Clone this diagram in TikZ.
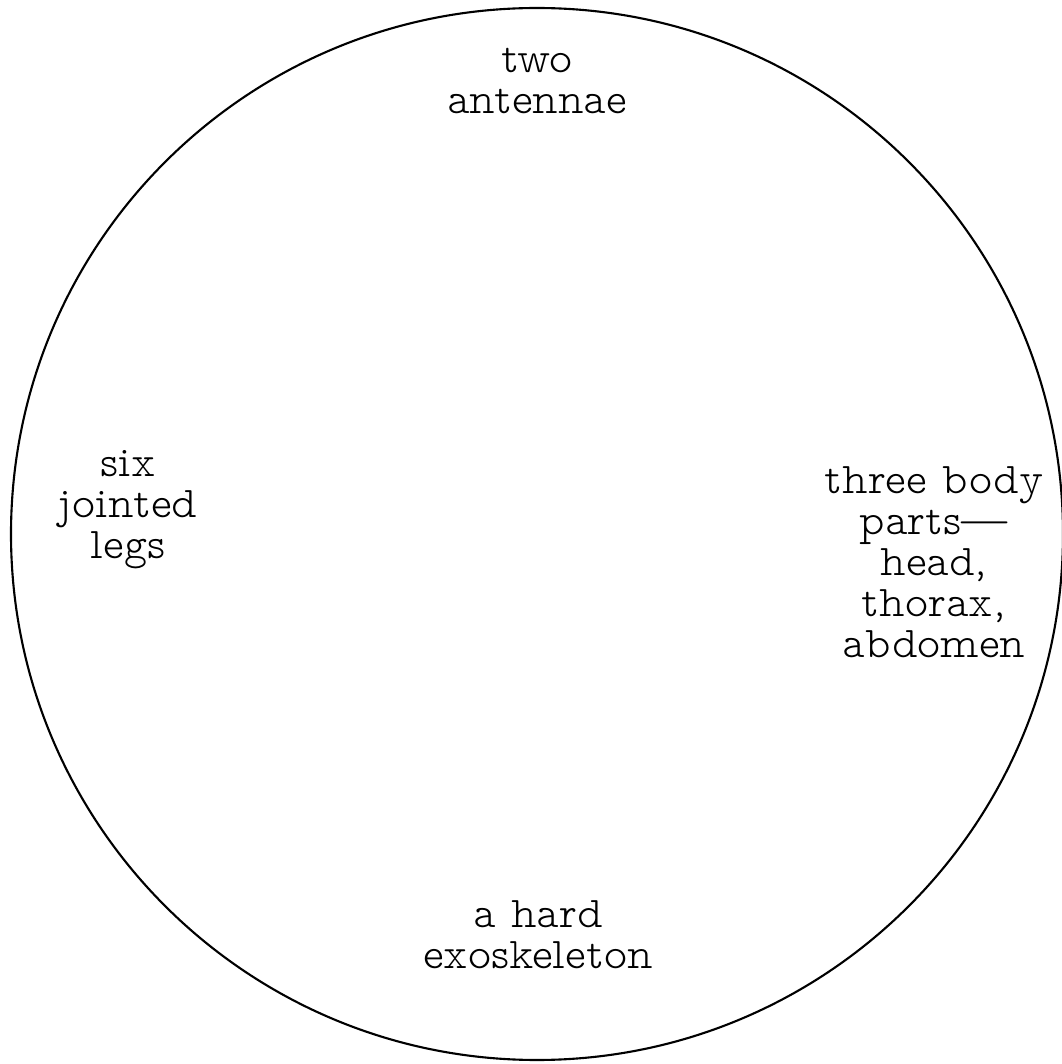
\documentclass[tikz,border=0pt]{standalone}
\usepackage{fontspec}
\newfontfamily\partfont{lmmonoproplt10-regular.otf}
\usetikzlibrary{calc}

\begin{document}
\begin{tikzpicture}[semithick,
  part/.style={align=center, inner sep=0pt,
    font=\partfont\fontsize{12.5}{11.7}\selectfont}]
  \useasboundingbox (0,0) rectangle (10.62,10.64);
  \coordinate (O) at (5.37, 5.30);

  \draw (O) circle (5.26);

  \node[part] (antennae) at (5.37, 9.83) {two\\antennae};
  \node[part] (legs) at (1.28, 5.54) {six\\jointed\\legs};
  \node[part] (body) at (9.34, 5.02) {three body\\parts—\\head,\\thorax,\\abdomen};
  \node[part] (skeleton) at (5.38, 1.29) {a hard\\exoskeleton};
\end{tikzpicture}
\end{document}
